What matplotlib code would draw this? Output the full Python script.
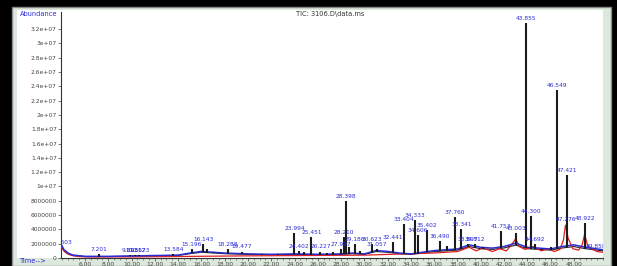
import matplotlib
matplotlib.use("Agg")

import matplotlib.pyplot as plt
import numpy as np
from matplotlib.patches import Rectangle
from matplotlib.ticker import FixedLocator, MultipleLocator

# ── Data (times in min, abundance in millions) ────────────────────────────────

peak_times = [7.201, 9.893, 10.312, 10.673, 13.584, 15.196, 16.143, 16.5, 17.0,
              18.288, 19.477, 20.3, 21.2, 22.6, 23.994, 24.402, 24.8, 25.451,
              26.227, 26.8, 27.3, 27.997, 28.210, 28.398, 28.7, 29.186, 29.6,
              30.623, 31.057, 32.441, 33.404, 34.333, 34.606, 35.402, 36.490,
              37.1, 37.760, 38.341, 38.9, 39.5, 40.2, 41.753, 42.4, 43.003,
              43.855, 44.300, 44.692, 45.3, 46.0, 46.549, 47.421, 48.2, 48.922,
              49.5, 50.2]
peak_heights = [0.5, 0.4, 0.4, 0.4, 0.5, 1.3, 1.9, 1.2, 0.9,
                1.3, 0.9, 0.6, 0.5, 0.6, 3.5, 1.0, 0.8, 2.9,
                0.9, 0.7, 0.8, 1.3, 2.9, 8.0, 1.5, 2.0, 1.0,
                2.0, 1.2, 2.2, 4.7, 5.3, 3.2, 3.9, 2.4,
                1.7, 5.7, 4.0, 1.9, 1.9, 1.6, 3.8, 1.7, 3.5,
                32.8, 5.9, 2.0, 1.2, 1.5, 23.5, 11.6, 1.5, 4.9,
                1.3, 1.0]

label_times = [4.15, 7.201, 9.893, 10.312, 10.673, 13.584, 15.196, 16.143,
               18.288, 19.477, 23.994, 24.402, 25.451, 26.227, 27.997, 28.210,
               28.398, 29.186, 30.623, 31.057, 32.441, 33.404, 34.333, 34.606,
               35.402, 36.490, 37.760, 38.341, 38.9, 39.5, 41.753, 43.003,
               43.855, 44.300, 44.692, 46.549, 47.276, 47.421, 48.922, 49.9]
label_heights = [1.5, 0.5, 0.4, 0.4, 0.4, 0.5, 1.3, 1.9,
                 1.3, 0.9, 3.5, 1.0, 2.9, 0.9, 1.3, 2.9,
                 8.0, 2.0, 2.0, 1.2, 2.2, 4.7, 5.3, 3.2,
                 3.9, 2.4, 5.7, 4.0, 1.9, 1.9, 3.8, 3.5,
                 32.8, 5.9, 2.0, 23.5, 4.8, 11.6, 4.9, 1.0]
label_texts = ["3.603", "7.201", "9.893", "10.312", "10.673", "13.584", "15.196",
               "16.143", "18.288", "19.477", "23.994", "24.402", "25.451",
               "26.227", "27.997", "28.210", "28.398", "29.186", "30.623",
               "31.057", "32.441", "33.404", "34.333", "34.606", "35.402",
               "36.490", "37.760", "38.341", "38.897", "39.512", "41.753",
               "43.003", "43.855", "44.300", "44.692", "46.549", "47.276",
               "47.421", "48.922", "49.858"]

base_times = [3.94, 4.2, 4.6, 5.0, 6.0, 8.0, 10.0, 12.0, 14.0, 15.0, 16.0, 17.0,
              18.0, 20.0, 22.0, 24.0, 26.0, 28.0, 29.0, 30.0, 31.0, 32.0, 33.0,
              34.0, 35.0, 36.0, 37.0, 38.0, 39.0, 40.0, 41.0, 42.0, 43.0, 44.0,
              45.0, 46.0, 47.0, 48.0, 49.0, 50.0, 50.5]
base_values = [1.7, 1.0, 0.55, 0.35, 0.2, 0.2, 0.25, 0.3, 0.35, 0.6, 0.8, 0.7,
               0.6, 0.5, 0.45, 0.5, 0.45, 0.5, 0.6, 0.5, 0.9, 0.8, 0.6,
               0.5, 0.7, 0.9, 1.0, 1.1, 1.6, 1.3, 1.2, 1.4, 1.8, 1.3,
               1.2, 1.1, 1.4, 1.6, 1.3, 1.1, 1.0]

red_times = [3.94, 4.1, 4.3, 4.6, 5.0, 5.5, 6.5, 10.0, 20.0, 30.0, 36.0, 38.0,
             39.0, 39.6, 40.2, 41.0, 41.6, 42.2, 42.8, 43.0, 43.3, 43.8, 44.5,
             45.2, 45.8, 46.3, 46.8, 47.1, 47.276, 47.5, 47.9, 48.4, 48.7,
             48.922, 49.2, 49.6, 50.0, 50.5]
red_values = [1.7, 1.2, 0.8, 0.5, 0.3, 0.2, 0.15, 0.15, 0.3, 0.4, 0.7, 0.9,
              1.5, 1.0, 1.4, 0.9, 1.3, 1.0, 2.2, 2.7, 1.6, 1.2, 1.6,
              1.0, 1.3, 0.9, 1.2, 2.5, 4.6, 2.8, 1.3, 1.1, 1.8,
              3.3, 1.6, 1.2, 0.9, 0.8]

x_ticks = [6, 8, 10, 12, 14, 16, 18, 20, 22, 24, 26, 28, 30, 32, 34, 36, 38,
           40, 42, 44, 46, 48]
y_ticks = [0, 2, 4, 6, 8, 10, 12, 14, 16, 18, 20, 22, 24, 26, 28, 30, 32]
y_tick_labels = ["0", "2000000", "4000000", "6000000", "8000000", "1e+07",
                 "1.2e+07", "1.4e+07", "1.6e+07", "1.8e+07", "2e+07", "2.2e+07",
                 "2.4e+07", "2.6e+07", "2.8e+07", "3e+07", "3.2e+07"]

BLUE = "#2b2bd6"
W, H = 617, 266

fig = plt.figure(figsize=(W / 100, H / 100), dpi=100)
fig.patch.set_facecolor("black")

# outer light frame and white panel, kept behind the axes
fig.patches.append(Rectangle((12 / W, 0), (611 - 12) / W, (H - 7) / H,
                             transform=fig.transFigure, facecolor="#dce8dc",
                             edgecolor="#888888", lw=1.0, zorder=-10))
fig.patches.append(Rectangle((17 / W, 8 / H), (603 - 17) / W, (H - 10 - 8) / H,
                             transform=fig.transFigure, facecolor="white",
                             edgecolor="none", zorder=-9))

ax = fig.add_axes([61 / W, 8 / H, (603 - 61) / W, (258 - 12) / H])
ax.set_zorder(5)
ax.patch.set_alpha(0)

ax.set_xlim(3.94, 50.5)
ax.set_ylim(0, 34.4)

# baseline traces
ax.plot(base_times, base_values, color="#222222", lw=0.8, zorder=2)
ax.plot(red_times, red_values, color="#e02020", lw=0.9, zorder=3)
ax.plot(base_times, np.array(base_values) * 1.15, color=BLUE, lw=1.1, zorder=3)

# peaks
peak_base = np.interp(peak_times, base_times, base_values)
ax.vlines(peak_times, peak_base, peak_heights, color="#1c1c1c", lw=1.5, zorder=4)

for t, h, s in zip(label_times, label_heights, label_texts):
    ax.annotate(s, (t, h), xytext=(0, 1.5), textcoords="offset points",
                ha="center", va="bottom", fontsize=4.2, color=BLUE,
                annotation_clip=False, clip_on=True, zorder=5)

ax.spines["top"].set_visible(False)
ax.spines["right"].set_visible(False)
ax.spines["left"].set_color("#333333")
ax.spines["bottom"].set_color("#333333")
ax.spines["left"].set_linewidth(0.8)
ax.spines["bottom"].set_linewidth(0.8)

ax.xaxis.set_major_locator(FixedLocator(x_ticks))
ax.xaxis.set_minor_locator(MultipleLocator(0.5))
ax.set_xticklabels([f"{t:.2f}" for t in x_ticks])
ax.set_yticks(y_ticks)
ax.set_yticklabels(y_tick_labels)
ax.tick_params(axis="both", which="major", length=2, width=0.5, pad=1,
               labelsize=4.3, colors="#444444")
ax.tick_params(axis="x", which="minor", length=1.5, width=0.4, colors="#444444")

fig.text(20 / W, 1 - 14 / H, "Abundance", fontsize=4.8, color=BLUE,
         ha="left", va="center")
fig.text(20 / W, 1 - 261 / H, "Time-->", fontsize=4.8, color=BLUE,
         ha="left", va="center")
fig.text(330 / W, 1 - 14 / H, "TIC: 3106.D\\data.ms", fontsize=4.8,
         color="#333333", ha="center", va="center")

fig.savefig("out.png", dpi=100, facecolor=fig.get_facecolor())
plt.close(fig)
